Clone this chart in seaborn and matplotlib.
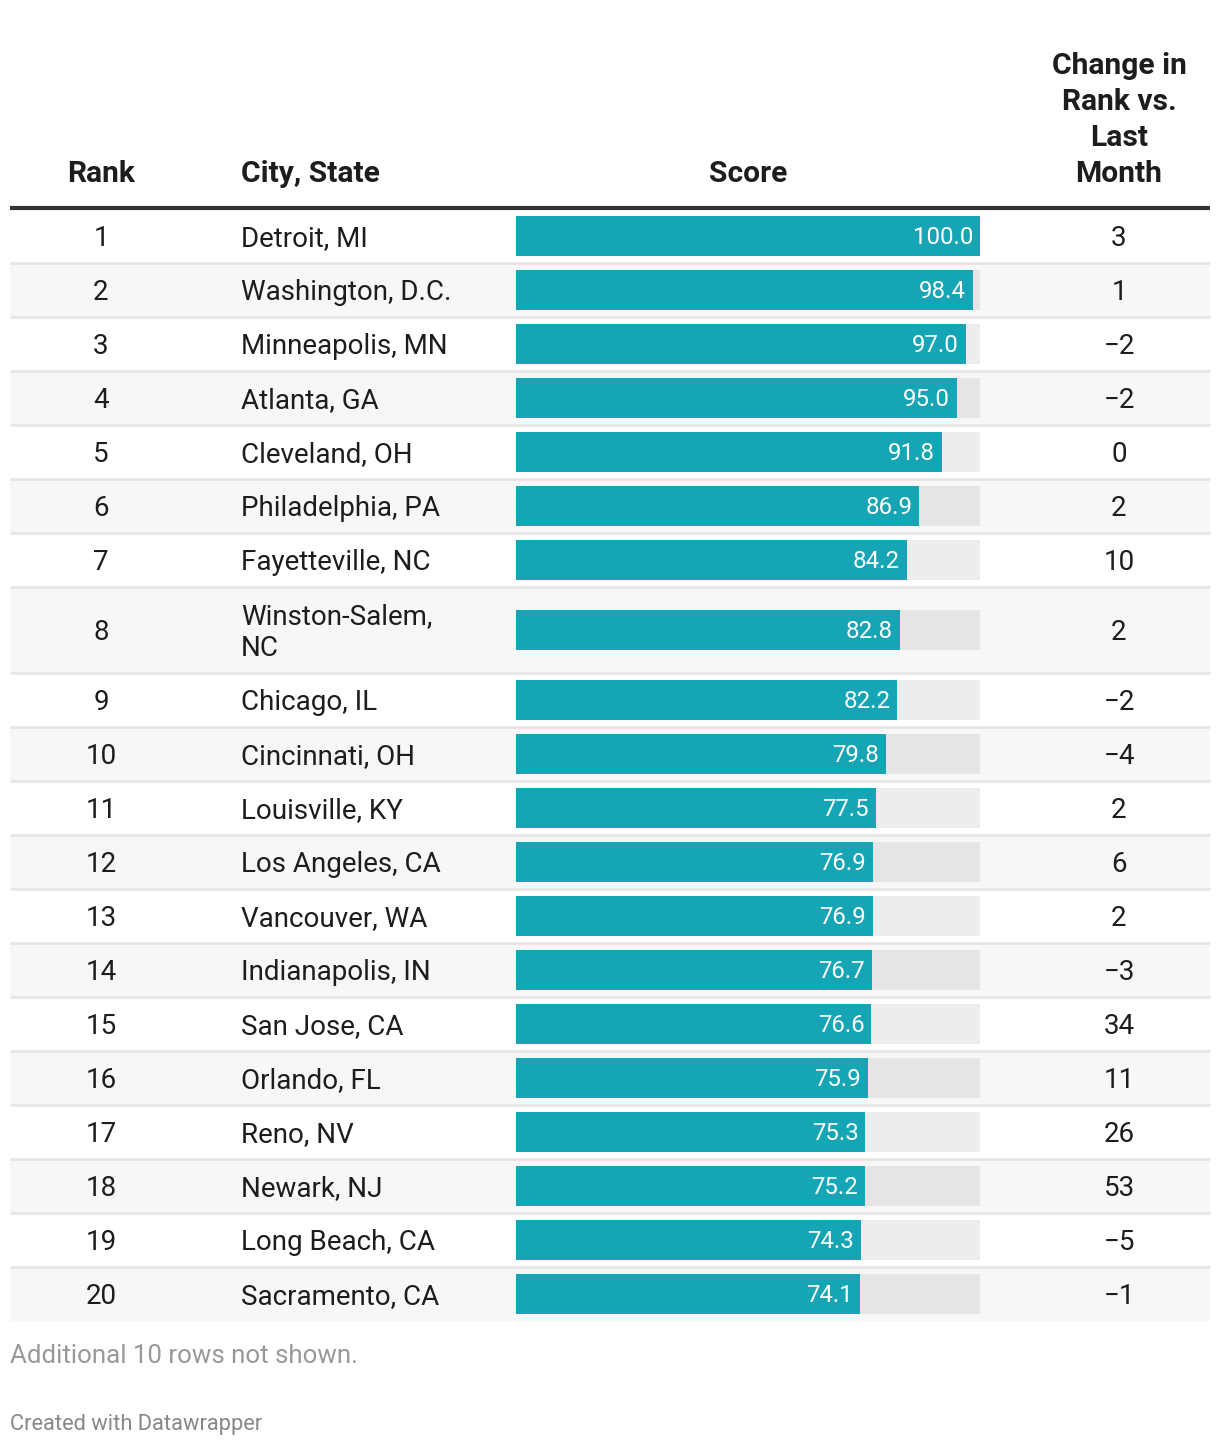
import matplotlib
matplotlib.use("Agg")
import matplotlib.pyplot as plt
import seaborn as sns
import pandas as pd
import numpy as np

# ---------------- data ----------------
ranks = list(range(1, 21))
cities = ["Detroit, MI", "Washington, D.C.", "Minneapolis, MN", "Atlanta, GA",
          "Cleveland, OH", "Philadelphia, PA", "Fayetteville, NC",
          "Winston-Salem,\nNC", "Chicago, IL", "Cincinnati, OH", "Louisville, KY",
          "Los Angeles, CA", "Vancouver, WA", "Indianapolis, IN", "San Jose, CA",
          "Orlando, FL", "Reno, NV", "Newark, NJ", "Long Beach, CA",
          "Sacramento, CA"]
scores = [100.0, 98.4, 97.0, 95.0, 91.8, 86.9, 84.2, 82.8, 82.2, 79.8,
          77.5, 76.9, 76.9, 76.7, 76.6, 75.9, 75.3, 75.2, 74.3, 74.1]
changes = [3, 1, -2, -2, 0, 2, 10, 2, -2, -4, 2, 6, 2, -3, 34, 11, 26, 53, -5, -1]
score_max = 100.0

headers = ["Rank", "City, State", "Score", "Change in\nRank vs.\nLast\nMonth"]
footnote = "Additional 10 rows not shown."
credit = "Created with Datawrapper"

# ---------------- style ----------------
sns.set_theme(style="white")
FONT = ["Roboto", "DejaVu Sans"]
plt.rcParams["font.family"] = FONT

W, H = 1220, 1446
DPI = 100
TEAL = "#15a5b5"
TXT = "#1d1d1d"

def px2pt(px):
    return px * 72.0 / DPI

BODY = px2pt(27.8)
HEAD = px2pt(30)
VAL = px2pt(24)

fig = plt.figure(figsize=(W / DPI, H / DPI), dpi=DPI)
fig.patch.set_facecolor("white")
ax = fig.add_axes([0, 0, 1, 1])
ax.set_xlim(0, W)
ax.set_ylim(H, 0)
ax.axis("off")

# ---------------- layout (pixels) ----------------
table_left, table_right = 10, 1210
header_line_y = 208
row_h = [54] * 20
row_h[7] = 86
tops = [header_line_y + 1]
for h in row_h[:-1]:
    tops.append(tops[-1] + h)
bottoms = [t + h for t, h in zip(tops, row_h)]
centers = [(t + b) / 2 for t, b in zip(tops, bottoms)]

x_rank = 101
x_city = 241
bar_x0, bar_x1 = 516, 980
x_change = 1119

# row shading and separators
for i, (t, b) in enumerate(zip(tops, bottoms)):
    if i % 2 == 1:
        ax.add_patch(plt.Rectangle((table_left, t), table_right - table_left, b - t,
                                   facecolor="#f7f7f7", edgecolor="none", zorder=0))
    if i < 19:
        ax.plot([table_left, table_right], [b, b], color="#e6e6e6", lw=2.0,
                solid_capstyle="butt", zorder=1)

ax.plot([table_left, table_right], [header_line_y, header_line_y], color="#333333",
        lw=3.0, solid_capstyle="butt", zorder=2)

# header
hdr_base = 182
ax.text(x_rank, hdr_base, headers[0], ha="center", va="baseline", fontsize=HEAD,
        fontweight="bold", color=TXT)
ax.text(x_city, hdr_base, headers[1], ha="left", va="baseline", fontsize=HEAD,
        fontweight="bold", color=TXT)
ax.text((bar_x0 + bar_x1) / 2, hdr_base, headers[2], ha="center", va="baseline",
        fontsize=HEAD, fontweight="bold", color=TXT)
lines = headers[3].split("\n")
for k, line in enumerate(lines):
    ax.text(x_change, hdr_base - 36 * (len(lines) - 1 - k), line, ha="center",
            va="baseline", fontsize=HEAD, fontweight="bold", color=TXT)

# body text
def fmt_change(v):
    return ("\u2212" + str(abs(v))) if v < 0 else str(v)

for i in range(20):
    c = centers[i]
    base = c + 10
    ax.text(x_rank, base, str(ranks[i]), ha="center", va="baseline", fontsize=BODY, color=TXT)
    city_lines = cities[i].split("\n")
    n = len(city_lines)
    for k, line in enumerate(city_lines):
        yb = base + (k - (n - 1) / 2) * 32
        ax.text(x_city, yb, line, ha="left", va="baseline", fontsize=BODY, color=TXT)
    ax.text(x_change, base, fmt_change(changes[i]), ha="center", va="baseline",
            fontsize=BODY, color=TXT)

# footer
ax.text(table_left, 1363, footnote, ha="left", va="baseline", fontsize=px2pt(25.9),
        color="#999999")
ax.text(table_left, 1430, credit, ha="left", va="baseline", fontsize=px2pt(21.9),
        color="#888888")

# ---------------- bars (seaborn) ----------------
bar_top, bar_bot = tops[0], bottoms[-1]
bax = fig.add_axes([bar_x0 / W, 1 - bar_bot / H, (bar_x1 - bar_x0) / W,
                    (bar_bot - bar_top) / H])
bax.patch.set_alpha(0)

df = pd.DataFrame({"city": cities, "score": scores, "ypos": centers,
                   "full": [score_max] * 20})
bar_w = 40 / 54
sns.barplot(data=df, x="full", y="ypos", orient="y", native_scale=True,
            width=bar_w, color="black", alpha=0.07, errorbar=None,
            saturation=1, linewidth=0, ax=bax)
sns.barplot(data=df, x="score", y="ypos", orient="y", native_scale=True,
            width=bar_w, color=TEAL, errorbar=None, saturation=1, linewidth=0,
            ax=bax)
bax.set_xlim(0, score_max)
bax.set_ylim(bar_bot, bar_top)
bax.axis("off")

off = 7 / (bar_x1 - bar_x0) * score_max
for s, c in zip(scores, centers):
    bax.text(s - off, c + 8, f"{s:.1f}", ha="right", va="baseline", fontsize=VAL,
             color="white")

fig.savefig("out.png", dpi=DPI, facecolor="white")
